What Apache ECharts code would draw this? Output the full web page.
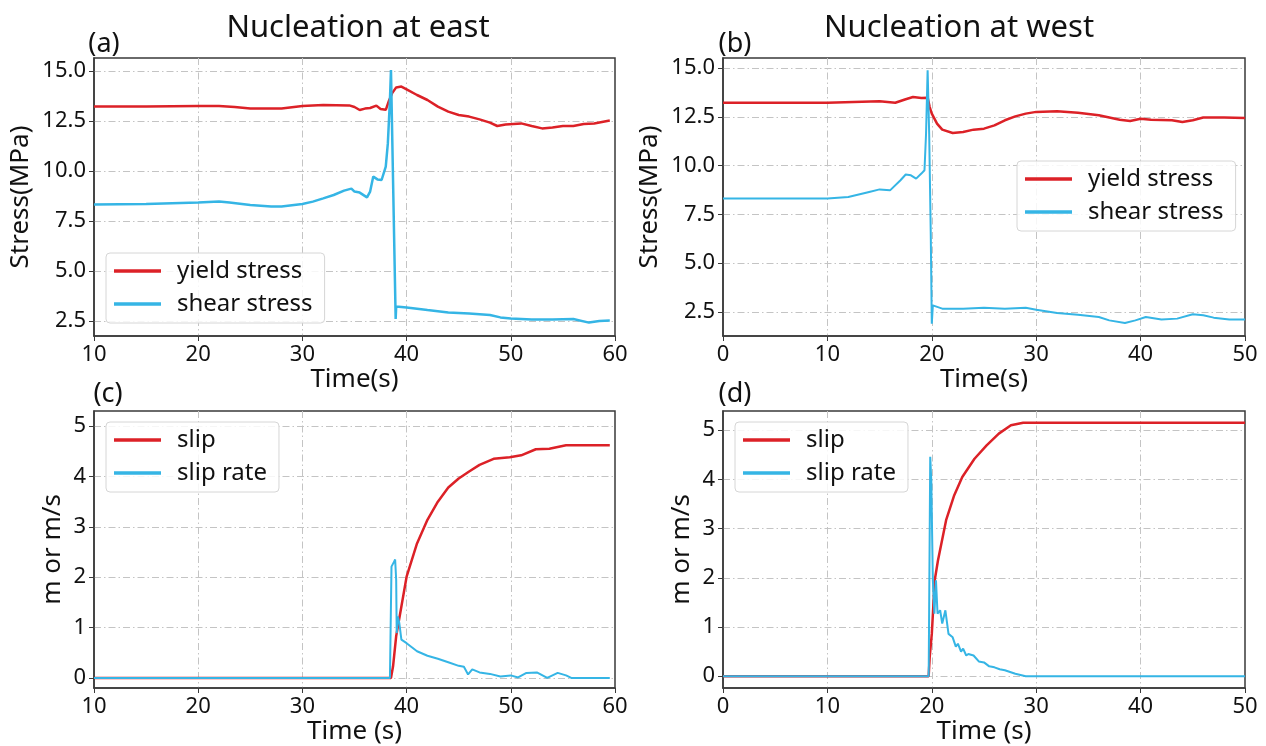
<!DOCTYPE html>
<html>
<head>
<meta charset="utf-8">
<title>Nucleation at east / west</title>
<script src="https://cdn.jsdelivr.net/npm/echarts@6/dist/echarts.min.js"></script>
<style>
  html, body { margin: 0; padding: 0; background: #fff; }
  #main { width: 1266px; height: 746px; }
</style>
</head>
<body>
<div id="main"></div>
<script>
// ---- data: [time (s), value] ----
var eastYield = [[10,13.22],[15,13.23],[20,13.25],[22,13.25],[23.5,13.2],[25,13.13],[28,13.13],[30,13.25],[32,13.3],[34.5,13.28],[35,13.2],[35.5,13.05],[36,13.12],[36.5,13.15],[37.1,13.27],[37.5,13.1],[38,13.06],[38.3,13.5],[38.6,13.88],[39,14.18],[39.5,14.22],[40,14.08],[41,13.8],[42,13.55],[43,13.22],[44,12.97],[45,12.8],[46,12.72],[47,12.58],[48,12.42],[48.7,12.25],[49.5,12.33],[51,12.38],[52,12.25],[53,12.13],[54,12.18],[55,12.25],[56,12.25],[57,12.35],[58,12.38],[59.5,12.52]];
var eastShear = [[10,8.33],[15,8.35],[20,8.42],[22,8.48],[23,8.42],[25,8.3],[27,8.22],[28,8.22],[30,8.35],[31,8.47],[32,8.63],[33,8.8],[34,9.02],[34.7,9.12],[35,8.97],[35.5,8.92],[36.2,8.68],[36.5,8.97],[36.8,9.72],[37.2,9.58],[37.6,9.55],[38,10.22],[38.2,11.38],[38.4,13.55],[38.5,15.05],[38.95,2.6],[39,3.22],[40,3.18],[42,3.05],[44,2.93],[46,2.88],[48,2.8],[49,2.68],[50,2.63],[52,2.58],[54,2.58],[56,2.6],[57.5,2.42],[58.5,2.5],[59.5,2.52]];
var westYield = [[0,13.22],[10,13.22],[15,13.29],[16.5,13.22],[17.5,13.4],[18.2,13.51],[19,13.46],[19.6,13.48],[19.8,13.0],[20,12.66],[20.5,12.15],[21,11.84],[22,11.67],[23,11.72],[24,11.84],[25,11.89],[26,12.06],[27,12.32],[28,12.52],[29,12.66],[30,12.75],[32,12.78],[34,12.71],[36,12.58],[38,12.35],[39,12.28],[40,12.4],[41,12.35],[43,12.32],[44,12.23],[45,12.32],[46,12.46],[48,12.46],[50,12.44]];
var westShear = [[0,8.31],[10,8.31],[12,8.39],[14,8.65],[15,8.78],[16,8.73],[17,9.25],[17.5,9.54],[18,9.5],[18.5,9.33],[19,9.59],[19.3,9.76],[19.45,11.64],[19.6,14.88],[19.75,11.6],[19.9,6.5],[20,1.9],[20.1,2.84],[21,2.67],[23,2.67],[25,2.72],[27,2.67],[29,2.72],[30,2.62],[32,2.45],[34,2.36],[36,2.24],[37,2.07],[38.5,1.94],[39.5,2.07],[40.5,2.24],[42,2.12],[43.5,2.16],[45,2.38],[46,2.33],[47,2.21],[48.5,2.12],[50,2.11]];
var eastSlip = [[10,0],[38.5,0],[38.7,0.23],[39,0.83],[39.5,1.42],[40,2.01],[41,2.67],[42,3.14],[43,3.5],[44,3.78],[45,3.96],[46,4.1],[47,4.23],[48.35,4.35],[49.9,4.38],[51,4.42],[52.4,4.54],[53.7,4.55],[55.3,4.62],[59.5,4.62]];
var eastSlipRate = [[10,0],[38.4,0],[38.55,2.21],[38.8,2.31],[38.9,2.35],[39,1.95],[39.05,0.89],[39.15,1.22],[39.3,1.09],[39.5,0.76],[40,0.69],[41,0.53],[42,0.44],[43,0.38],[44,0.31],[45,0.24],[45.5,0.22],[45.9,0.07],[46.3,0.17],[47,0.11],[48,0.08],[49,0.03],[50,0.05],[50.7,0.01],[51.5,0.1],[52.5,0.11],[53.5,0],[54.5,0.1],[55.3,0.05],[55.8,0],[59.5,0]];
var westSlip = [[0,0],[19.7,0],[19.8,0.39],[20,0.86],[20.28,1.95],[20.59,2.35],[21.37,3.17],[22.15,3.68],[22.92,4.05],[24.09,4.42],[25.25,4.69],[26.42,4.93],[27.58,5.1],[28.75,5.15],[50,5.15]];
var westSlipRate = [[0,0],[19.7,0],[19.85,4.46],[19.95,3.98],[20.1,1.95],[20.25,1.27],[20.4,1.95],[20.55,1.27],[20.8,1.34],[21,1.07],[21.3,1.34],[21.6,0.86],[22,0.79],[22.3,0.6],[22.5,0.66],[22.8,0.5],[23,0.56],[23.3,0.42],[23.5,0.45],[24,0.42],[24.5,0.3],[25,0.28],[25.5,0.2],[26,0.18],[26.5,0.14],[27,0.12],[28,0.05],[29,0],[50,0]];

// tick labels
var stressTicks = [2.5, 5.0, 7.5, 10.0, 12.5, 15.0];
var slipTicks = [0, 1, 2, 3, 4, 5];
var stressNames = ['yield stress', 'shear stress'];
var slipNames = ['slip', 'slip rate'];

var RED = '#dc2127', BLUE = '#35b5e5', FONT = 'Noto Sans';

var chart = echarts.init(document.getElementById('main'));

var grids = [
  { left: 94, top: 58, width: 521, height: 278 },
  { left: 723, top: 58, width: 522, height: 278 },
  { left: 94, top: 411, width: 521, height: 277 },
  { left: 723, top: 411, width: 522, height: 277 }
];

var dashDot = { color: '#c4c4c4', width: 1, type: [7, 3, 1.5, 3] };

function xAxisFor(i, min, max, name, gap) {
  return {
    type: 'value', gridIndex: i, min: min, max: max, interval: 10,
    name: name, nameLocation: 'middle', nameGap: gap,
    nameTextStyle: { fontSize: 26, color: '#111', fontFamily: FONT },
    axisLine: { show: true, onZero: false, lineStyle: { color: '#3a3a3a', width: 1.5 } },
    axisTick: { show: true, length: 5, lineStyle: { color: '#3a3a3a' } },
    axisLabel: { fontSize: 22, color: '#111', fontFamily: FONT, margin: 8 },
    splitLine: { show: true, showMinLine: false, showMaxLine: false, lineStyle: dashDot }
  };
}

function yAxisFor(i, min, max, ticks, digits, name, gap) {
  return {
    type: 'value', gridIndex: i, min: min, max: max,
    name: name, nameLocation: 'middle', nameGap: gap,
    nameTextStyle: { fontSize: 26, color: '#111', fontFamily: FONT },
    axisLine: { show: true, onZero: false, lineStyle: { color: '#3a3a3a', width: 1.5 } },
    axisTick: { show: true, length: 5, customValues: ticks, lineStyle: { color: '#3a3a3a' } },
    axisLabel: {
      fontSize: 22, color: '#111', fontFamily: FONT, margin: 8, customValues: ticks,
      formatter: function(v) { return v.toFixed(digits); }
    },
    splitLine: { show: true, customValues: ticks, lineStyle: dashDot }
  };
}

function lineSeries(name, data, i, color, width) {
  return {
    name: name, type: 'line', data: data, xAxisIndex: i, yAxisIndex: i,
    showSymbol: false, symbol: 'none', smooth: false,
    lineStyle: { color: color, width: width }, itemStyle: { color: color },
    animation: false, z: color == RED ? 3 : 4
  };
}

function legendAt(left, top, names) {
  return {
    left: left, top: top, orient: 'vertical', data: names,
    icon: 'rect', itemWidth: 47, itemHeight: 3.5, itemGap: 7,
    padding: [5, 12, 6, 8],
    backgroundColor: 'rgba(255,255,255,0.85)', borderColor: '#d6d6d6', borderWidth: 1, borderRadius: 4,
    textStyle: { fontSize: 24, color: '#111', fontFamily: FONT, lineHeight: 26, padding: [0, 0, 0, 11] },
    selectedMode: false
  };
}

function label(text, x, y, size) {
  return {
    type: 'text', x: x, y: y,
    style: { text: text, fontSize: size, fill: '#111', fontFamily: FONT, align: 'center', verticalAlign: 'middle' }
  };
}

var option = {
  backgroundColor: '#fff',
  animation: false,
  grid: grids.map(function(g) {
    return Object.assign({ show: true, borderColor: '#3a3a3a', borderWidth: 1.5, backgroundColor: 'transparent' }, g);
  }),
  xAxis: [
    xAxisFor(0, 10, 60, 'Time(s)', 30),
    xAxisFor(1, 0, 50, 'Time(s)', 30),
    xAxisFor(2, 10, 60, 'Time (s)', 31),
    xAxisFor(3, 0, 50, 'Time (s)', 31)
  ],
  yAxis: [
    yAxisFor(0, 1.75, 15.65, stressTicks, 1, 'Stress(MPa)', 60),
    yAxisFor(1, 1.27, 15.51, stressTicks, 1, 'Stress(MPa)', 60),
    yAxisFor(2, -0.2, 5.3, slipTicks, 0, 'm or m/s', 28),
    yAxisFor(3, -0.24, 5.39, slipTicks, 0, 'm or m/s', 28)
  ],
  legend: [
    legendAt(106, 253, stressNames),
    legendAt(1017, 161, stressNames),
    legendAt(106, 422, slipNames),
    legendAt(735, 422, slipNames)
  ],
  graphic: [
    label('Nucleation at east', 358, 28, 31),
    label('Nucleation at west', 959, 28, 31),
    label('(a)', 104, 44, 27),
    label('(b)', 735, 44, 27),
    label('(c)', 108, 394, 27),
    label('(d)', 735, 394, 27)
  ],
  series: [
    lineSeries('yield stress', eastYield, 0, RED, 2.5),
    lineSeries('shear stress', eastShear, 0, BLUE, 2.5),
    lineSeries('yield stress', westYield, 1, RED, 2.5),
    lineSeries('shear stress', westShear, 1, BLUE, 2),
    lineSeries('slip', eastSlip, 2, RED, 2.5),
    lineSeries('slip rate', eastSlipRate, 2, BLUE, 2),
    lineSeries('slip', westSlip, 3, RED, 2.5),
    lineSeries('slip rate', westSlipRate, 3, BLUE, 2)
  ]
};

chart.setOption(option);
</script>
</body>
</html>
